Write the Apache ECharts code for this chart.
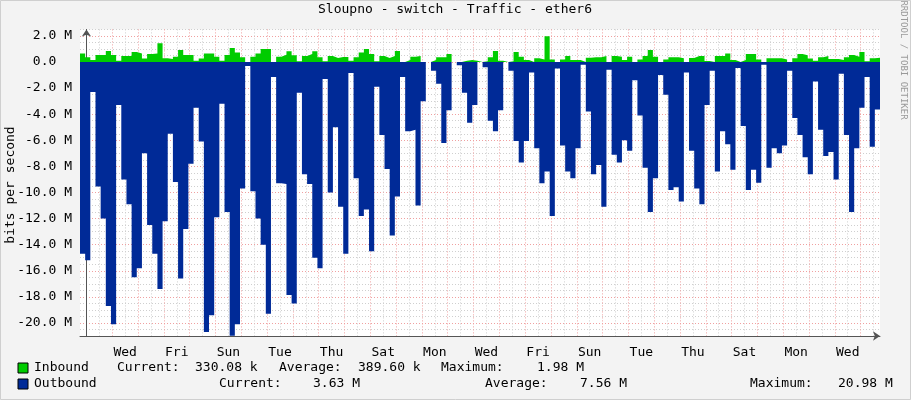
<!DOCTYPE html>
<html><head><meta charset="utf-8">
<script src="https://cdn.jsdelivr.net/npm/echarts@6/dist/echarts.min.js"></script>
<style>html,body{margin:0;padding:0;background:#f3f3f3}#c{width:911px;height:400px}</style>
</head><body><div id="c"></div>
<script>
// time axis: hours relative to first midnight; samples every 4.8 h starting at -6 h
const startHour = -6;
const stepHours = 4.8;
const dayNames = ['Tue','Wed','Thu','Fri','Sat','Sun','Mon','Tue','Wed','Thu','Fri','Sat','Sun','Mon','Tue','Wed','Thu','Fri','Sat','Sun','Mon','Tue','Wed','Thu','Fri','Sat','Sun','Mon','Tue','Wed','Thu','Fri'];
const yTickLabels = [2,0,-2,-4,-6,-8,-10,-12,-14,-16,-18,-20];
// values in M bits/s
const inbound = [
0.66,0.36,0.15,0.54,0.54,0.84,0.54,0.1,0.46,0.46,0.77,0.66,0.26,0.61,0.66,1.43,0.28,0.23,0.41,0.92,0.54,0.54,0.1,0.26,0.66,0.66,0.41,0.1,0.54,1.07,0.72,0.36,0,0.41,0.66,1.0,1.0,0,0.41,
0.56,0.82,0.51,0.05,0.46,0.61,0.82,0.36,0.05,0.46,0.31,0.38,0.38,0.1,0.36,0.72,1.0,0.61,0.05,0.46,0.31,0.46,0.84,0,0.15,0.41,0.46,0,0,0.15,0.36,0.36,0.61,0,0,0.1,0.15,0.1,0,
0.05,0.36,0.84,0.1,0,0.05,0.77,0.41,0.15,0,0.28,0.2,1.98,0.2,0,0.2,0.46,0.15,0.15,0,0.33,0.36,0.36,0.46,0,0.46,0.41,0.15,0.41,0,0.2,0.46,0.92,0.41,0,0.2,0.36,0.36,0.28,
0,0.31,0.46,0.46,0.08,0,0.46,0.46,0.66,0.15,0,0.15,0.61,0.61,0.2,0,0.28,0.28,0.28,0.2,0,0.28,0.61,0.51,0.26,0.1,0.36,0.46,0.23,0.23,0.15,0.36,0.54,0.41,0.77,0.05,0.28,0.33];
const outbound = [
-14.7,-15.2,-2.3,-9.55,-12.0,-18.7,-20.1,-3.3,-9.0,-10.9,-16.5,-15.8,-7.0,-12.5,-14.7,-17.4,-12.2,-5.5,-9.2,-16.6,-12.8,-7.8,-3.5,-6.1,-20.7,-19.4,-11.9,-3.2,-11.5,-20.98,-20.1,-9.7,-0.3,-9.9,-12.0,-14.0,-19.3,-1.15,-9.3,
-9.35,-17.85,-18.5,-2.35,-8.6,-9.35,-15.0,-15.8,-1.3,-10.0,-5.0,-11.1,-14.7,-0.85,-8.9,-11.8,-11.3,-14.5,-1.9,-5.6,-8.2,-13.3,-10.3,-1.15,-5.3,-5.2,-11.0,-3.0,0,-0.66,-1.66,-6.2,-3.7,0,-0.25,-2.35,-4.65,-3.3,0,
-0.4,-4.5,-5.3,-3.7,0,-0.66,-6.05,-7.7,-6.05,-0.8,-6.6,-9.3,-8.4,-11.8,-0.5,-6.4,-8.4,-8.9,-6.6,-0.2,-3.8,-8.6,-7.9,-11.1,-0.6,-7.1,-7.7,-6.0,-6.8,-1.4,-4.1,-8.1,-11.5,-8.9,-1.0,-2.5,-9.8,-9.6,-10.7,
-0.8,-6.8,-9.7,-10.9,-3.3,-0.66,-8.4,-5.3,-6.3,-8.25,-0.46,-4.9,-9.8,-8.25,-9.25,-0.2,-8.1,-6.6,-7.0,-6.4,-0.66,-4.3,-5.6,-7.3,-8.6,-1.5,-5.2,-7.2,-6.9,-9.0,-0.9,-5.6,-11.5,-6.6,-3.5,-1.15,-6.5,-3.63];

function pairs(arr){
  const out = arr.map((v,i)=>[startHour+i*stepHours, v]);
  out.push([startHour+arr.length*stepHours, arr[arr.length-1]]);
  return out;
}
const endHour = 738;
const FONT = 'DejaVu Sans Mono';
const chart = echarts.init(document.getElementById('c'));
const T = (x,y,text,extra)=>({type:'text',x:x,y:y,style:Object.assign({text:text,fill:'#000',fontFamily:FONT,fontSize:13,verticalAlign:'middle'},extra||{})});
chart.setOption({
  animation:false,
  backgroundColor:'#f3f3f3',
  grid:{left:80,right:31,top:29.4,bottom:64,show:true,backgroundColor:'#fff',borderWidth:0},
  xAxis:{type:'value',min:startHour,max:endHour,interval:6,
    axisLine:{onZero:false,lineStyle:{color:'#555'},symbol:['none','arrow'],symbolSize:[7,7]},
    axisTick:{show:false},
    axisLabel:{interval:0,hideOverlap:false,showMinLabel:true,showMaxLabel:true,color:'#000',fontFamily:FONT,fontSize:13,margin:10,
      formatter:v=>{const r=Math.round(v);return ((r-36)%48===0)?dayNames[(r-12)/24]:'';}},
    splitLine:{show:true,lineStyle:{type:[1,2],color:['rgba(0,0,0,0)','#f0a0a0','rgba(0,0,0,0)','#cfcfcf']}}},
  yAxis:{type:'value',min:-21,max:2.5,interval:0.5,
    axisLine:{show:true,lineStyle:{color:'#555'},symbol:['none','arrow'],symbolSize:[7,7]},
    axisTick:{show:false},
    axisLabel:{interval:0,color:'#000',fontFamily:FONT,fontSize:13,margin:8,
      formatter:v=>{const r=Math.round(v*2)/2; if(!yTickLabels.includes(r)) return ''; return r===0?'0.0  ':r.toFixed(1)+' M';}},
    splitLine:{show:true,lineStyle:{type:[1,2],color:['#cfcfcf','#cfcfcf','#f0a0a0','#cfcfcf']}}},
  series:[
    {type:'line',step:'end',data:pairs(inbound),symbol:'none',lineStyle:{width:0},areaStyle:{color:'#00cc00',opacity:1},z:2},
    {type:'line',step:'end',data:pairs(outbound),symbol:'none',lineStyle:{width:0},areaStyle:{color:'#002a97',opacity:1},z:2}
  ],
  graphic:[
    T(455,10,'Sloupno - switch - Traffic - ether6',{align:'center'}),
    T(11,185,'bits per second',{align:'center'}),
    {type:'text',x:903,y:60,rotation:-Math.PI/2,style:{text:'RRDTOOL / TOBI OETIKER',fill:'#999',fontFamily:FONT,fontSize:9,align:'center',verticalAlign:'middle'}},
    {type:'rect',shape:{x:18,y:363,width:10,height:10},style:{fill:'#00cc00',stroke:'#000',lineWidth:1}},
    {type:'rect',shape:{x:18,y:379,width:10,height:10},style:{fill:'#002a97',stroke:'#000',lineWidth:1}},
    T(34,368,'Inbound'),T(117,368,'Current:'),T(195,368,'330.08 k'),T(279,368,'Average:'),T(358,368,'389.60 k'),T(441,368,'Maximum:'),T(537,368,'1.98 M'),
    T(34,384,'Outbound'),T(219,384,'Current:'),T(313,384,'3.63 M'),T(485,384,'Average:'),T(580,384,'7.56 M'),T(750,384,'Maximum:'),T(838,384,'20.98 M'),
    {type:'rect',shape:{x:0.5,y:0.5,width:910,height:399},style:{fill:'none',stroke:'#cfcfcf',lineWidth:1}}
  ]
});
chart.setOption({graphic:[{},{rotation:Math.PI/2}]});
</script></body></html>
